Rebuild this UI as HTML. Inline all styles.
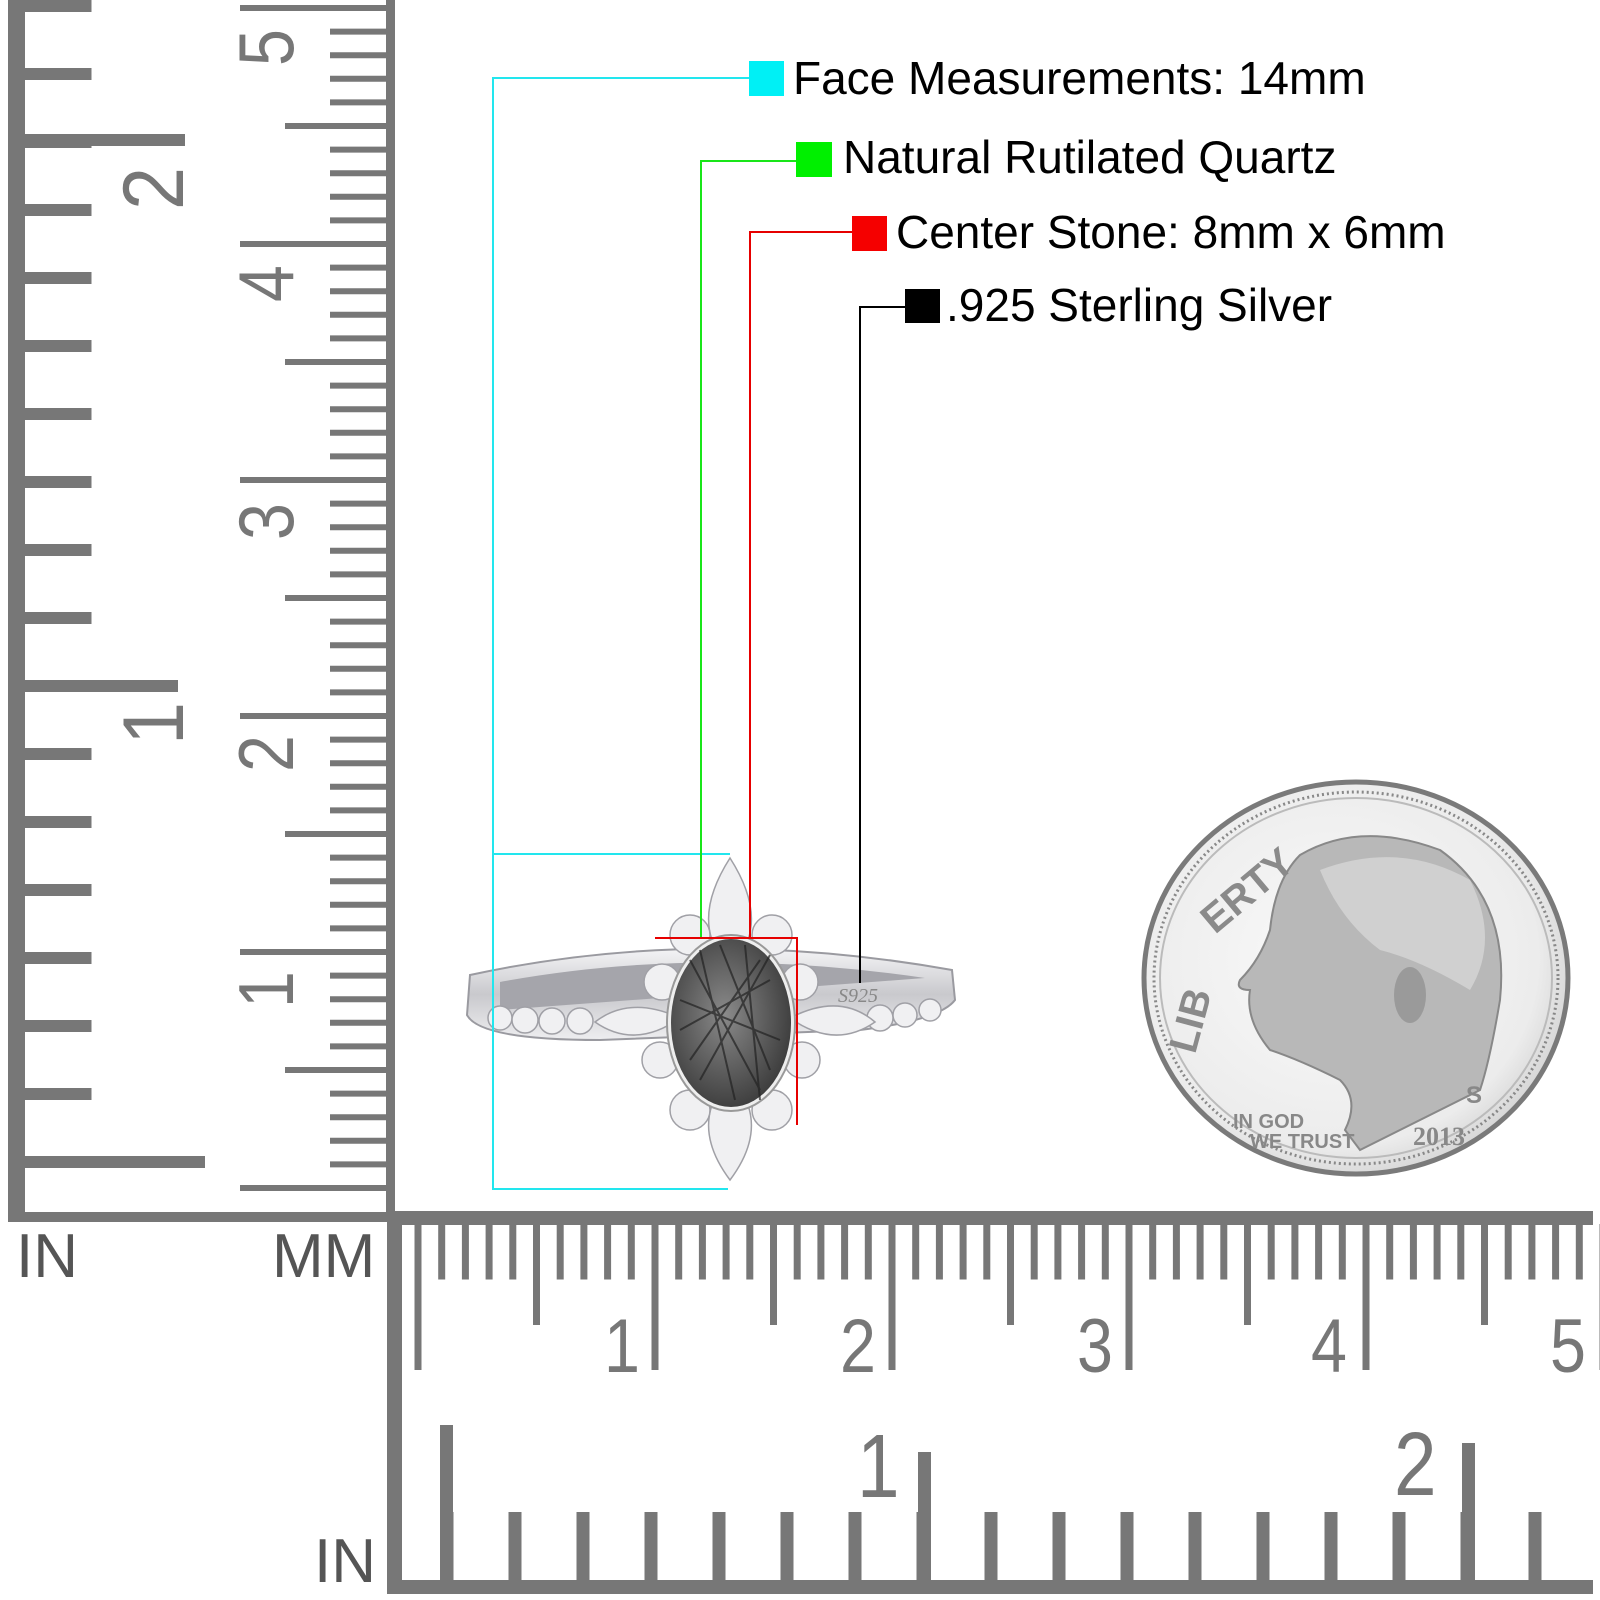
<!DOCTYPE html>
<html><head><meta charset="utf-8"><style>
html,body{margin:0;padding:0;background:#fff;}
svg{display:block;}
</style></head><body>
<svg width="1600" height="1600" viewBox="0 0 1600 1600" xmlns="http://www.w3.org/2000/svg" font-family="Liberation Sans, Arial, sans-serif">
<defs>
<radialGradient id="coin" cx="0.45" cy="0.45" r="0.6">
<stop offset="0" stop-color="#fafafa"/><stop offset="0.8" stop-color="#ececec"/><stop offset="1" stop-color="#cfcfcf"/>
</radialGradient>
<radialGradient id="stone" cx="0.45" cy="0.45" r="0.6">
<stop offset="0" stop-color="#8a8a8a"/><stop offset="1" stop-color="#3a3a3a"/>
</radialGradient>
<linearGradient id="band" x1="0" y1="0" x2="0" y2="1">
<stop offset="0" stop-color="#f4f4f6"/><stop offset="0.5" stop-color="#c9c9cd"/><stop offset="1" stop-color="#eeeef0"/>
</linearGradient>
</defs>
<rect width="1600" height="1600" fill="#fff"/>

<g fill="#777" stroke="none">
<rect x="8" y="0" width="17" height="1222"/>
<rect x="386" y="0" width="9" height="1222"/>
<rect x="8" y="1212" width="394" height="10"/>
</g>
<path d="M58 1168 L58 0" stroke="#777" stroke-width="67" stroke-dasharray="12 56" fill="none"/>
<rect x="25" y="1156" width="180" height="12" fill="#777"/>
<rect x="25" y="680" width="153" height="12" fill="#777"/>
<rect x="25" y="134" width="160" height="12" fill="#777"/>
<path d="M359 1191 L359 0" stroke="#777" stroke-width="58" stroke-dasharray="6 17.6" fill="none"/>
<path d="M336.5 1073 L336.5 0" stroke="#777" stroke-width="103" stroke-dasharray="6 230" fill="none"/>
<path d="M314 1191 L314 0" stroke="#777" stroke-width="148" stroke-dasharray="6 230" fill="none"/>
<g fill="#777" font-size="78">
<text transform="translate(293,1008) rotate(-90) scale(0.85,1)">1</text>
<text transform="translate(293,772) rotate(-90) scale(0.85,1)">2</text>
<text transform="translate(293,540) rotate(-90) scale(0.85,1)">3</text>
<text transform="translate(293,302) rotate(-90) scale(0.85,1)">4</text>
<text transform="translate(293,66) rotate(-90) scale(0.85,1)">5</text>
<text transform="translate(183,745) rotate(-90) scale(0.9,1)" font-size="86">1</text>
<text transform="translate(183,210) rotate(-90) scale(0.9,1)" font-size="86">2</text>
</g>

<g fill="#777">
<rect x="387" y="1211" width="1206" height="14"/>
<rect x="387" y="1211" width="15" height="383"/>
<rect x="387" y="1580" width="1206" height="14"/>
</g>
<path d="M414.5 1252 L1600 1252" stroke="#777" stroke-width="55" stroke-dasharray="7 16.7" fill="none"/>
<path d="M533 1275 L1600 1275" stroke="#777" stroke-width="100" stroke-dasharray="7 230" fill="none"/>
<path d="M414.5 1297 L1600 1297" stroke="#777" stroke-width="146" stroke-dasharray="7 230" fill="none"/>
<path d="M440.5 1546 L1593 1546" stroke="#777" stroke-width="68" stroke-dasharray="13 55" fill="none"/>
<rect x="440" y="1425" width="13" height="160" fill="#777"/>
<rect x="918" y="1452" width="13" height="130" fill="#777"/>
<rect x="1462" y="1443" width="13" height="140" fill="#777"/>
<g fill="#777" font-size="76">
<text transform="translate(604,1372) scale(0.85,1)">1</text>
<text transform="translate(840,1372) scale(0.85,1)">2</text>
<text transform="translate(1077,1372) scale(0.85,1)">3</text>
<text transform="translate(1311,1372) scale(0.85,1)">4</text>
<text transform="translate(1550,1372) scale(0.85,1)">5</text>
<text transform="translate(857,1497) scale(0.85,1)" font-size="90">1</text>
<text transform="translate(1394,1495) scale(0.85,1)" font-size="90">2</text>
</g>
<g fill="#555" font-size="62">
<text x="16" y="1277">IN</text>
<text x="272" y="1277">MM</text>
<text x="314" y="1582">IN</text>
</g>

<!-- RING -->
<g>
<path d="M470 975 Q700 925 952 970 L955 1000 Q940 1020 860 1030 L600 1040 Q480 1040 467 1015 Z" fill="url(#band)" stroke="#9a9aa0" stroke-width="2"/>
<path d="M500 982 Q700 945 925 978 Q700 995 500 1010 Z" fill="#a5a5ab"/>
<g fill="#f0f0f2" stroke="#a0a0a6" stroke-width="1.5">
<circle cx="500" cy="1018" r="12"/><circle cx="525" cy="1020" r="13"/><circle cx="552" cy="1021" r="13"/><circle cx="580" cy="1021" r="13"/>
<circle cx="880" cy="1018" r="13"/><circle cx="905" cy="1015" r="12"/><circle cx="930" cy="1010" r="11"/>
<path d="M595 1022 Q630 995 680 1018 Q635 1050 595 1022 Z"/>
<path d="M790 1018 Q840 992 875 1022 Q835 1050 790 1018 Z"/>
<path d="M730 858 Q760 905 748 940 L712 940 Q700 905 730 858 Z"/>
<path d="M730 1180 Q760 1140 748 1105 L712 1105 Q700 1140 730 1180 Z"/>
<circle cx="690" cy="935" r="20"/><circle cx="772" cy="935" r="20"/>
<circle cx="662" cy="982" r="18"/><circle cx="800" cy="982" r="18"/>
<circle cx="660" cy="1060" r="18"/><circle cx="802" cy="1060" r="18"/>
<circle cx="690" cy="1110" r="20"/><circle cx="772" cy="1110" r="20"/>
</g>
<ellipse cx="731" cy="1023" rx="64" ry="88" fill="#eee" stroke="#999" stroke-width="2"/>
<ellipse cx="731" cy="1023" rx="60" ry="84" fill="url(#stone)"/>
<g stroke="#222" stroke-width="2" opacity="0.7">
<line x1="690" y1="960" x2="760" y2="1090"/><line x1="700" y1="950" x2="735" y2="1100"/>
<line x1="770" y1="955" x2="700" y2="1080"/><line x1="680" y1="1000" x2="780" y2="1040"/>
<line x1="720" y1="945" x2="770" y2="1070"/><line x1="760" y1="960" x2="690" y2="1060"/>
<line x1="745" y1="945" x2="760" y2="1100"/><line x1="680" y1="1030" x2="770" y2="980"/>
</g>
<text x="838" y="1002" font-family="Liberation Serif, serif" font-size="20" fill="#888" font-style="italic">S925</text>
</g>

<g fill="none" stroke-width="2">
<polyline points="749,78 493,78 493,1189 728,1189" stroke="#22e6ee"/>
<line x1="493" y1="854" x2="730" y2="854" stroke="#22e6ee"/>
<polyline points="796,161 701,161 701,938" stroke="#19e619"/>
<polyline points="852,232 750,232 750,938" stroke="#e60000"/>
<polyline points="655,938 797,938 797,1125" stroke="#e60000"/>
<polyline points="905,307 860,307 860,983" stroke="#000"/>
</g>
<rect x="749" y="61" width="35" height="35" fill="#00f0f5"/>
<rect x="796" y="142" width="36" height="35" fill="#00f000"/>
<rect x="852" y="216" width="35" height="35" fill="#f50000"/>
<rect x="905" y="289" width="35" height="34" fill="#000"/>
<g fill="#000" font-size="46">
<text x="793" y="94">Face Measurements: 14mm</text>
<text x="843" y="173">Natural Rutilated Quartz</text>
<text x="896" y="248">Center Stone: 8mm x 6mm</text>
<text x="946" y="321">.925 Sterling Silver</text>
</g>

<g>
<ellipse cx="1356" cy="978" rx="212" ry="196" fill="url(#coin)" stroke="#7a7a7a" stroke-width="5"/>
<ellipse cx="1356" cy="978" rx="202" ry="186" fill="none" stroke="#888" stroke-width="3" stroke-dasharray="2 3"/>
<ellipse cx="1356" cy="978" rx="196" ry="180" fill="none" stroke="#bbb" stroke-width="2"/>
<path d="M1300 855 Q1360 820 1440 850 Q1510 900 1500 1000 Q1490 1060 1480 1090 L1360 1150 L1345 1130 Q1360 1100 1340 1080 Q1300 1060 1270 1050 Q1245 1020 1250 990 Q1235 990 1240 980 Q1260 960 1270 930 Q1275 880 1300 855 Z" fill="#b8b8b8" stroke="#888" stroke-width="2"/>
<path d="M1320 870 Q1400 840 1470 880 Q1500 940 1470 990 Q1420 960 1380 950 Q1340 920 1320 870 Z" fill="#d0d0d0"/>
<ellipse cx="1410" cy="995" rx="16" ry="28" fill="#9a9a9a"/>
<text transform="translate(1195,1055) rotate(-75)" font-size="40" font-weight="bold" fill="#8a8a8a">LIB</text>
<text transform="translate(1215,935) rotate(-40)" font-size="40" font-weight="bold" fill="#8a8a8a">ERTY</text>
<text x="1233" y="1128" font-size="20" font-weight="bold" fill="#888">IN GOD</text>
<text x="1250" y="1148" font-size="20" font-weight="bold" fill="#888">WE TRUST</text>
<text x="1413" y="1145" font-size="26" font-weight="bold" fill="#888" font-family="Liberation Serif, serif">2013</text>
<text x="1466" y="1103" font-size="24" font-weight="bold" fill="#888">S</text>
</g>
</svg>
</body></html>
